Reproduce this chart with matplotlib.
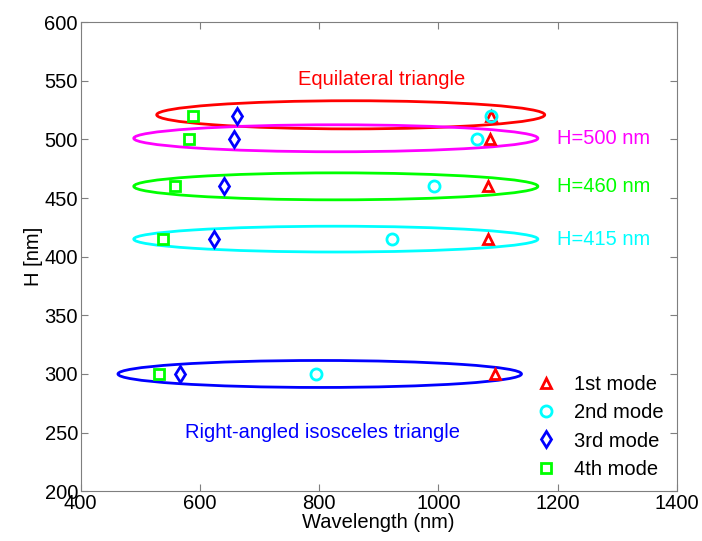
import numpy as np
import matplotlib
matplotlib.use("Agg")
from matplotlib import pyplot as plt
from matplotlib.patches import Ellipse

plt.rcParams['font.family'] = ['Liberation Sans', 'DejaVu Sans']

# Film thickness H (nm) for each structure row
H = [520, 500, 460, 415, 300]

# Resonance wavelengths (nm) of each mode, one value per row of H
mode1 = [1089, 1087, 1084, 1084, 1095]
mode2 = [1089, 1065, 992, 923, 794]
mode3 = [662, 657, 640, 623, 566]
mode4 = [588, 582, 559, 538, 531]

mode_labels = ['1st mode', '2nd mode', '3rd mode', '4th mode']

# Grouping ellipses: (center wavelength, center H, width, height, colour)
groups = [
    (853, 521, 651, 24, 'red'),
    (828, 501, 678, 23, 'magenta'),
    (828, 460, 678, 23, 'lime'),
    (828, 415, 678, 22, 'cyan'),
    (801, 300, 677, 23, 'blue'),
]

fs = 14.5

fig = plt.figure(figsize=(7.02, 5.41), dpi=100)
ax = fig.add_axes([0.115, 0.092, 0.849, 0.867])

for cx, cy, w, h, c in groups:
    ax.add_patch(Ellipse((cx, cy), w, h, fill=False, edgecolor=c, lw=2.0))

mk = dict(ls='none', markerfacecolor='none', markeredgewidth=2.0)
ax.plot(mode1, H, marker='^', color='red', ms=7, label=mode_labels[0], **mk)
ax.plot(mode2, H, marker='o', color='cyan', ms=8, label=mode_labels[1], **mk)
ax.plot(mode3, H, marker='d', color='blue', ms=8, label=mode_labels[2], **mk)
ax.plot(mode4, H, marker='s', color='lime', ms=6.5, label=mode_labels[3], **mk)

ax.text(905, 551, 'Equilateral triangle', color='red', fontsize=fs, ha='center', va='center')
ax.text(1199, 501, 'H=500 nm', color='magenta', fontsize=fs, ha='left', va='center')
ax.text(1199, 460, 'H=460 nm', color='lime', fontsize=fs, ha='left', va='center')
ax.text(1199, 415, 'H=415 nm', color='cyan', fontsize=fs, ha='left', va='center')
ax.text(806, 250, 'Right-angled isosceles triangle', color='blue', fontsize=fs,
        ha='center', va='center')

ax.set_xlim(400, 1400)
ax.set_ylim(200, 600)
ax.set_xticks(np.arange(400, 1401, 200))
ax.set_yticks(np.arange(200, 601, 50))
ax.set_xlabel('Wavelength (nm)', fontsize=fs, labelpad=0)
ax.set_ylabel('H [nm]', fontsize=fs, labelpad=1)

for s in ax.spines.values():
    s.set_color('#7f7f7f')
    s.set_linewidth(0.8)
ax.tick_params(direction='in', length=5, width=0.8, color='#7f7f7f',
               labelsize=fs, top=True, right=True, pad=2)

ax.legend(loc='lower right', bbox_to_anchor=(1.012, -0.016), frameon=False, fontsize=fs,
          handlelength=1.0, handletextpad=0.9, labelspacing=0.45, borderaxespad=0.6)

fig.savefig('out.png', dpi=100)
